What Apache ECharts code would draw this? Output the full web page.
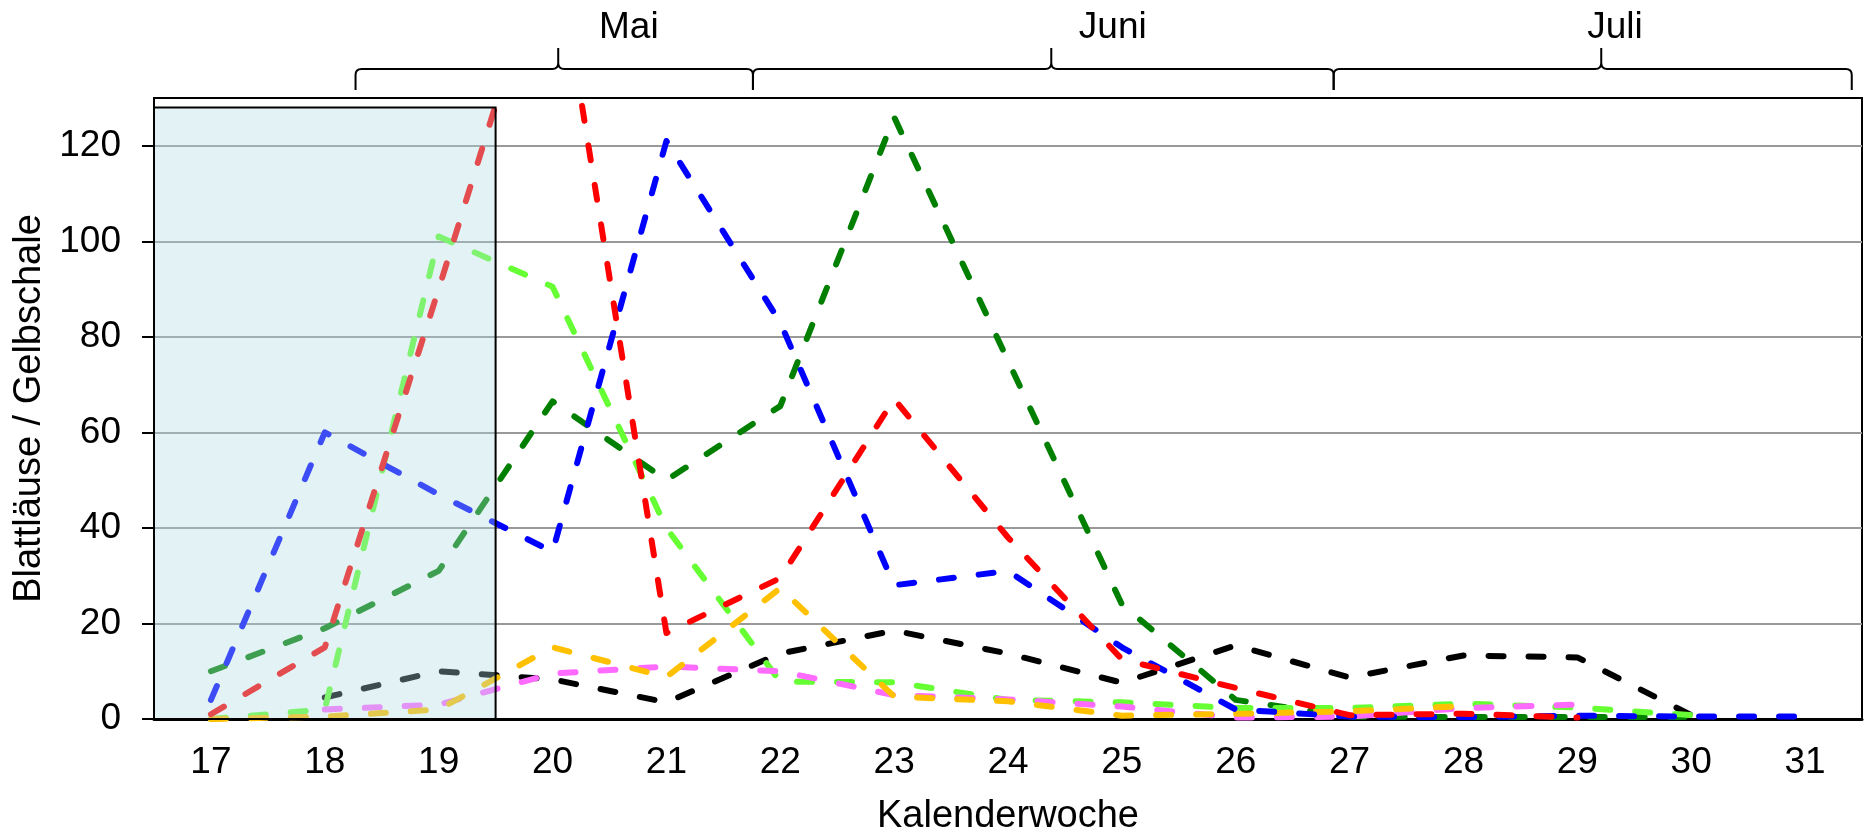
<!DOCTYPE html>
<html>
<head>
<meta charset="utf-8">
<script src="https://cdn.jsdelivr.net/npm/echarts@6/dist/echarts.min.js"></script>
<style>
  html, body { margin: 0; padding: 0; background: #fff; }
  #chart { width: 1869px; height: 832px; }
</style>
</head>
<body>
<div id="chart"></div>
<script>
// weeks 17..31
const weeks = ['17', '18', '19', '20', '21', '22', '23', '24', '25', '26', '27', '28', '29', '30', '31'];

const blueVals    = [4, 60, 47, 35, 121, 83, 28, 31, 15, 2, 0.5, 0.4, 0.7, 0.5, 0.5];
const redVals     = [1, 15, 90, 167, 18, 29.5, 67, 38, 12.5, 6.5, 0.8, 1.1, 0.3, null, null];
const dkGreenVals = [10, 19, 31, 66.5, 50, 65.5, 126, 75, 24, 4, 0.5, 0.4, 0.4, 0.4, null];
const ltGreenVals = [0, 2, 101, 90.5, 40, 7.8, 7.7, 4, 3.5, 2.3, 2.3, 3.2, 2.4, 0.8, null];
const blackVals   = [null, 4.5, 10, 8.3, 3.5, 13.7, 18.5, 13.7, 7.6, 15.4, 8.7, 13.3, 12.9, 0.8, null];
const orangeVals  = [0, 0.5, 2, 15, 8.8, 27.4, 4.7, 3.7, 0.7, 1.1, 1.6, 2.7, null, null, null];
const pinkVals    = [null, 2, 3, 9.5, 11, 10, 5, 4.1, 2.6, 0.3, 0.5, 2.3, 3, null, null];

const yTicks = [0, 20, 40, 60, 80, 100, 120];

// months above the plot, in week units
const months = ['Mai', 'Juni', 'Juli'];
const monthStart = [18.27, 21.76, 26.86];
const monthPeak = [20.05, 24.38, 29.21];
const monthEnd = [21.76, 26.86, 31.41];
const monthLabel = [20.67, 24.92, 29.33];

// shaded period (weeks 17-19)
const shadeFrom = 16.5, shadeTo = 19.5, shadeTop = 128;

const FONT = 'Liberation Sans';

function dashed(name, data, color) {
  return {
    name: name,
    type: 'line',
    data: data,
    symbol: 'none',
    z: 3,
    lineStyle: { color: color, width: 6, type: [15, 25], cap: 'round', join: 'round' }
  };
}

const chart = echarts.init(document.getElementById('chart'), null, { renderer: 'canvas' });

chart.setOption({
  animation: false,
  textStyle: { fontFamily: FONT, color: '#000' },
  grid: {
    left: 154, right: 7, top: 98, bottom: 113,
    outerBoundsMode: 'none',
    show: true, borderColor: '#000', borderWidth: 2
  },
  xAxis: [
    {
      type: 'category',
      data: weeks,
      boundaryGap: true,
      axisLine: { lineStyle: { color: '#000', width: 3 } },
      axisTick: { length: 10, lineStyle: { color: '#000', width: 2 } },
      axisLabel: { fontSize: 37, color: '#000', margin: 25, fontFamily: FONT },
      name: 'Kalenderwoche',
      nameLocation: 'middle',
      nameGap: 79,
      nameTextStyle: { fontSize: 38, color: '#000', fontFamily: FONT }
    },
    { type: 'value', min: 16.5, max: 31.5, show: false }
  ],
  yAxis: {
    type: 'value',
    min: 0, max: 130, interval: 20,
    axisLine: { show: true, lineStyle: { color: '#000', width: 2 } },
    axisTick: { show: true, length: 12, customValues: yTicks, lineStyle: { color: '#000', width: 2 } },
    axisLabel: { customValues: yTicks, fontSize: 37, color: '#000', margin: 33, fontFamily: FONT },
    splitLine: { lineStyle: { color: '#999', width: 2 } },
    name: 'Blattläuse / Gelbschale',
    nameLocation: 'middle',
    nameGap: 84,
    nameTextStyle: { fontSize: 38, color: '#000', fontFamily: FONT }
  },
  series: [
    dashed('black', blackVals, '#000000'),
    dashed('dkgreen', dkGreenVals, '#007f00'),
    dashed('ltgreen', ltGreenVals, '#66ff33'),
    dashed('pink', pinkVals, '#ff6bff'),
    dashed('orange', orangeVals, '#ffc000'),
    dashed('blue', blueVals, '#0000ff'),
    dashed('red', redVals, '#ff0000'),
    {
      // translucent box over weeks 17-19
      type: 'custom',
      xAxisIndex: 1,
      silent: true,
      z: 10,
      data: [[shadeFrom, shadeTo, shadeTop]],
      renderItem: function (params, api) {
        const p0 = api.coord([api.value(0), api.value(2)]);
        const p1 = api.coord([api.value(1), 0]);
        return {
          type: 'rect',
          shape: { x: p0[0], y: p0[1], width: p1[0] - p0[0], height: p1[1] - p0[1] },
          style: { fill: 'rgba(175,222,225,0.35)', stroke: '#000', lineWidth: 2 }
        };
      }
    },
    {
      // month braces above the plot
      type: 'custom',
      xAxisIndex: 1,
      silent: true,
      z: 10,
      clip: false,
      data: months.map((m, i) => [monthStart[i], monthPeak[i], monthEnd[i], monthLabel[i]]),
      renderItem: function (params, api) {
        const top = api.coord([16.5, 130])[1];
        const xs = api.coord([api.value(0), 0])[0];
        const xp = api.coord([api.value(1), 0])[0];
        const xe = api.coord([api.value(2), 0])[0];
        const xl = api.coord([api.value(3), 0])[0];
        const yl = top - 29, ye = top - 8, yp = top - 50, r = 6;
        const d = 'M' + xs + ' ' + ye + ' L' + xs + ' ' + (yl + r) +
          ' Q' + xs + ' ' + yl + ' ' + (xs + r) + ' ' + yl +
          ' L' + (xp - r) + ' ' + yl +
          ' Q' + xp + ' ' + yl + ' ' + xp + ' ' + (yl - r) +
          ' L' + xp + ' ' + yp +
          ' M' + xp + ' ' + (yl - r) +
          ' Q' + xp + ' ' + yl + ' ' + (xp + r) + ' ' + yl +
          ' L' + (xe - r) + ' ' + yl +
          ' Q' + xe + ' ' + yl + ' ' + xe + ' ' + (yl + r) +
          ' L' + xe + ' ' + ye;
        return {
          type: 'group',
          children: [
            {
              type: 'path',
              shape: { pathData: d },
              style: { fill: null, stroke: '#000', lineWidth: 2 }
            },
            {
              type: 'text',
              x: xl, y: top - 70,
              style: {
                text: months[params.dataIndex],
                fontSize: 37, fontFamily: FONT, fill: '#000',
                align: 'center', verticalAlign: 'middle'
              }
            }
          ]
        };
      }
    }
  ]
});
</script>
</body>
</html>
